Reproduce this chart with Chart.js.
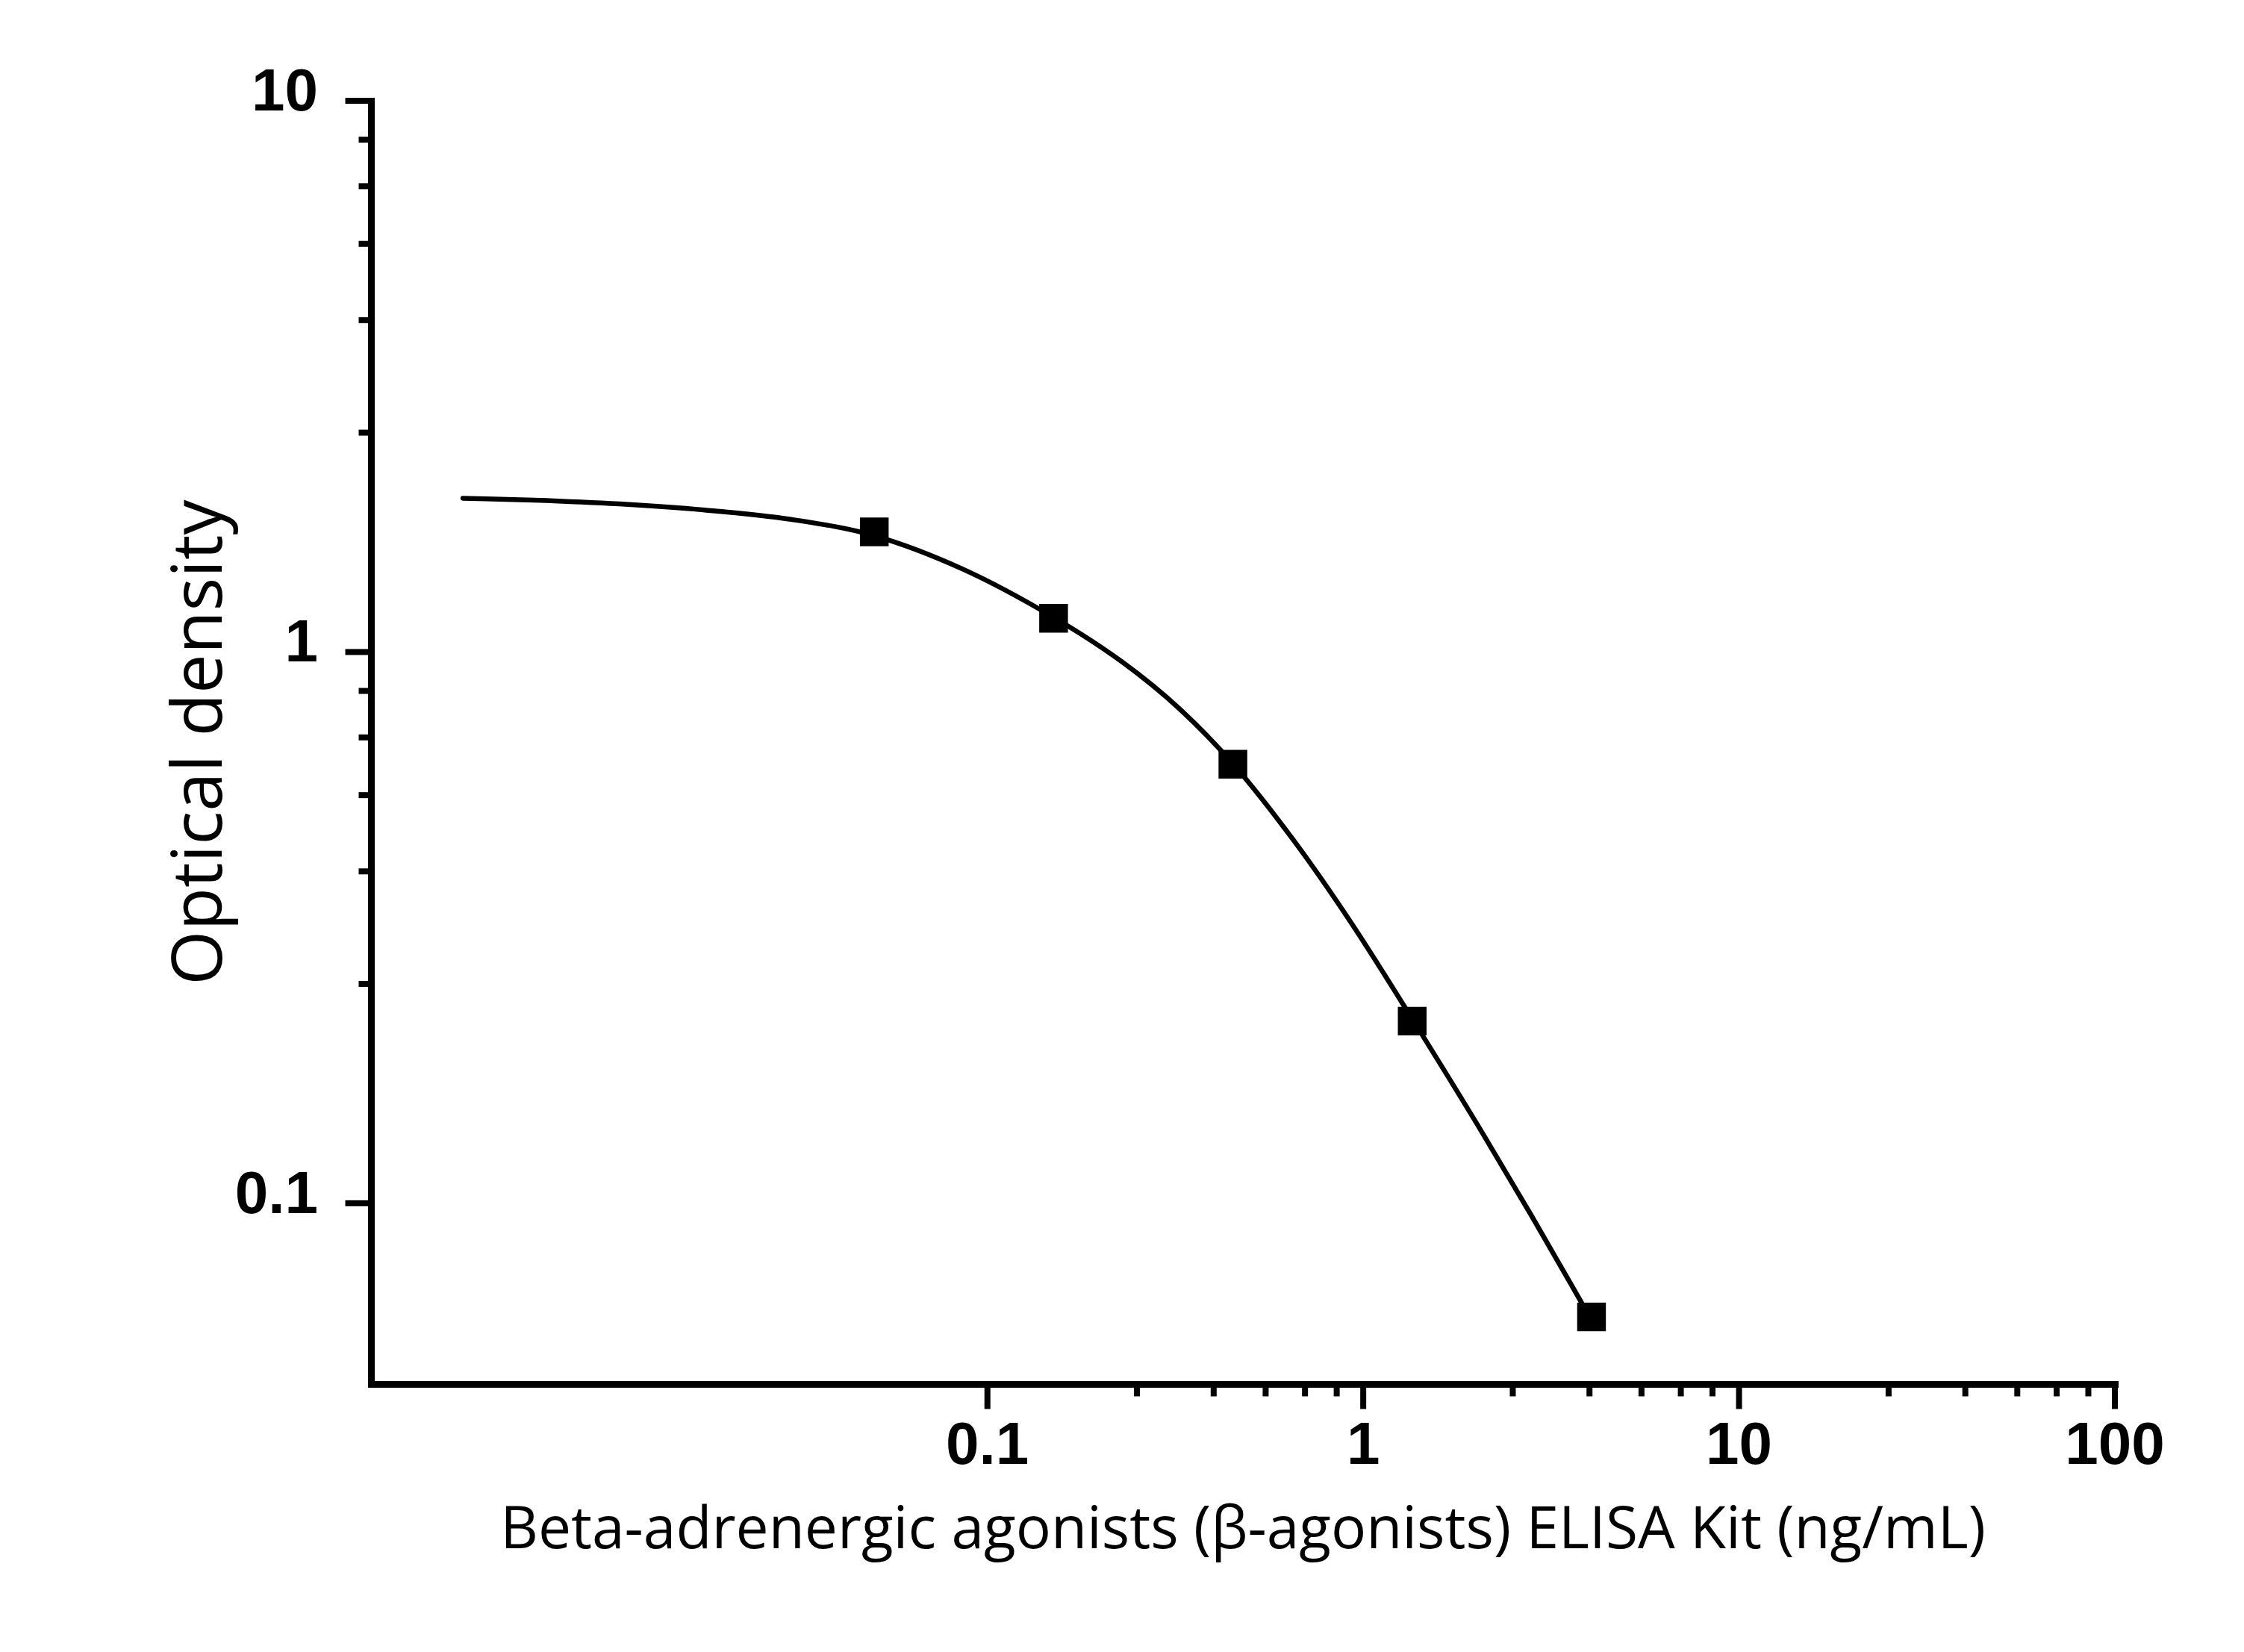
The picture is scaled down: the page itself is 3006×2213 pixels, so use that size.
<!DOCTYPE html>
<html lang="en">
  <head>
    <meta charset="UTF-8" />
    <title>Beta-adrenergic agonists ELISA standard curve</title>
    <script src="https://cdn.jsdelivr.net/npm/chart.js"></script>
    <style>
      html,
      body {
        margin: 0;
        padding: 0;
        background: #ffffff;
      }
      canvas {
        display: block;
      }
    </style>
  </head>
  <body>
    <canvas id="curveChart" width="3006" height="2213"></canvas>

    <script>
      // Standard points (ng/mL vs OD)
      const stdConc = [0.05, 0.15, 0.45, 1.35, 4.05];
      const stdOD = [1.652, 1.151, 0.626, 0.214, 0.0622];

      // Fitted curve
      const fitConc = [
        0.00402, 0.00621, 0.0105, 0.0177, 0.03, 0.05, 0.086, 0.15, 0.229,
        0.325, 0.45, 0.655, 0.929, 1.35, 2.064, 2.8, 4.05,
      ];
      const fitOD = [
        1.901, 1.886, 1.856, 1.809, 1.74, 1.626, 1.414, 1.156, 0.958, 0.788,
        0.627, 0.454, 0.3226, 0.216, 0.135, 0.0951, 0.0614,
      ];

      // Axis ticks
      const xMajor = [0.1, 1, 10, 100];
      const yMajor = [0.1, 1, 10];
      const minorSteps = [2.5, 4, 5.5, 7, 8.5];

      const xTitle = "Beta-adrenergic agonists (\u03b2-agonists) ELISA Kit (ng/mL)";
      const yTitle = "Optical density";

      function buildTicks(majors) {
        const ticks = [];
        majors.forEach((m, i) => {
          ticks.push({ value: m, major: true });
          if (i < majors.length - 1) {
            minorSteps.forEach((s) => ticks.push({ value: m * s, major: false }));
          }
        });
        return ticks.sort((a, b) => a.value - b.value);
      }

      // short minor ticks and long major ticks, outside the axes
      const tickMarks = {
        id: "tickMarks",
        afterDraw(chart) {
          const ctx = chart.ctx;
          const area = chart.chartArea;
          const xs = chart.scales.x;
          const ys = chart.scales.y;
          ctx.save();
          ctx.strokeStyle = "#000000";
          ctx.lineWidth = 8;
          ctx.lineCap = "butt";
          xs.ticks.forEach((t) => {
            const px = xs.getPixelForValue(t.value);
            const len = xMajor.includes(t.value) ? 29 : 12;
            ctx.beginPath();
            ctx.moveTo(px, area.bottom + 4);
            ctx.lineTo(px, area.bottom + 4.5 + len);
            ctx.stroke();
          });
          ys.ticks.forEach((t) => {
            const py = ys.getPixelForValue(t.value);
            const len = yMajor.includes(t.value) ? 30 : 12;
            ctx.beginPath();
            ctx.moveTo(area.left - 4, py);
            ctx.lineTo(area.left - 4.5 - len, py);
            ctx.stroke();
          });
          ctx.restore();
        },
      };

      const tickFont = {
        family: "'Liberation Sans', Arial, sans-serif",
        size: 80,
        weight: "bold",
      };

      new Chart(document.getElementById("curveChart").getContext("2d"), {
        type: "scatter",
        data: {
          datasets: [
            {
              label: "Standards",
              data: stdConc.map((c, i) => ({ x: c, y: stdOD[i] })),
              pointStyle: "rect",
              pointRadius: 27.2,
              pointHoverRadius: 27.2,
              pointBorderWidth: 0,
              backgroundColor: "#000000",
              borderColor: "#000000",
              showLine: false,
              order: 1,
            },
            {
              label: "Fit",
              data: fitConc.map((c, i) => ({ x: c, y: fitOD[i] })),
              showLine: true,
              pointRadius: 0,
              pointHoverRadius: 0,
              borderColor: "#000000",
              borderWidth: 6.5,
              borderCapStyle: "round",
              borderJoinStyle: "round",
              cubicInterpolationMode: "monotone",
              fill: false,
              order: 2,
            },
          ],
        },
        options: {
          responsive: false,
          animation: false,
          devicePixelRatio: 1,
          layout: {
            padding: { top: 135, right: 173, left: 0, bottom: 0 },
          },
          plugins: {
            legend: { display: false },
            tooltip: { enabled: false },
          },
          scales: {
            x: {
              type: "logarithmic",
              position: "bottom",
              min: 0.00229,
              max: 100,
              afterBuildTicks: (scale) => {
                scale.ticks = buildTicks(xMajor);
              },
              afterFit: (scale) => {
                scale.height = 359;
              },
              border: { display: true, color: "#000000", width: 9 },
              grid: {
                display: true,
                drawOnChartArea: false,
                drawTicks: true,
                tickLength: 29,
                lineWidth: 9,
                tickColor: "rgba(0,0,0,0)",
              },
              ticks: {
                autoSkip: false,
                maxRotation: 0,
                minRotation: 0,
                padding: 8,
                color: "#000000",
                font: tickFont,
                callback: (v) => (xMajor.includes(v) ? String(v) : ""),
              },
              title: {
                display: true,
                text: xTitle,
                color: "#000000",
                font: { family: "'Open Sans', sans-serif", size: 78.5 },
                padding: { top: 0, bottom: 114 },
              },
            },
            y: {
              type: "logarithmic",
              position: "left",
              min: 0.047,
              max: 10,
              afterBuildTicks: (scale) => {
                scale.ticks = buildTicks(yMajor);
              },
              afterFit: (scale) => {
                scale.width = 497;
              },
              border: { display: true, color: "#000000", width: 9 },
              grid: {
                display: true,
                drawOnChartArea: false,
                drawTicks: true,
                tickLength: 29,
                lineWidth: 9,
                tickColor: "rgba(0,0,0,0)",
              },
              ticks: {
                autoSkip: false,
                padding: 42,
                labelOffset: -9,
                color: "#000000",
                font: tickFont,
                callback: (v) => (yMajor.includes(v) ? String(v) : ""),
              },
              title: {
                display: true,
                text: yTitle,
                color: "#000000",
                font: { family: "'Open Sans', sans-serif", size: 94 },
                padding: { top: 214, bottom: 0 },
              },
            },
          },
        },
        plugins: [tickMarks],
      });
    </script>
  </body>
</html>
